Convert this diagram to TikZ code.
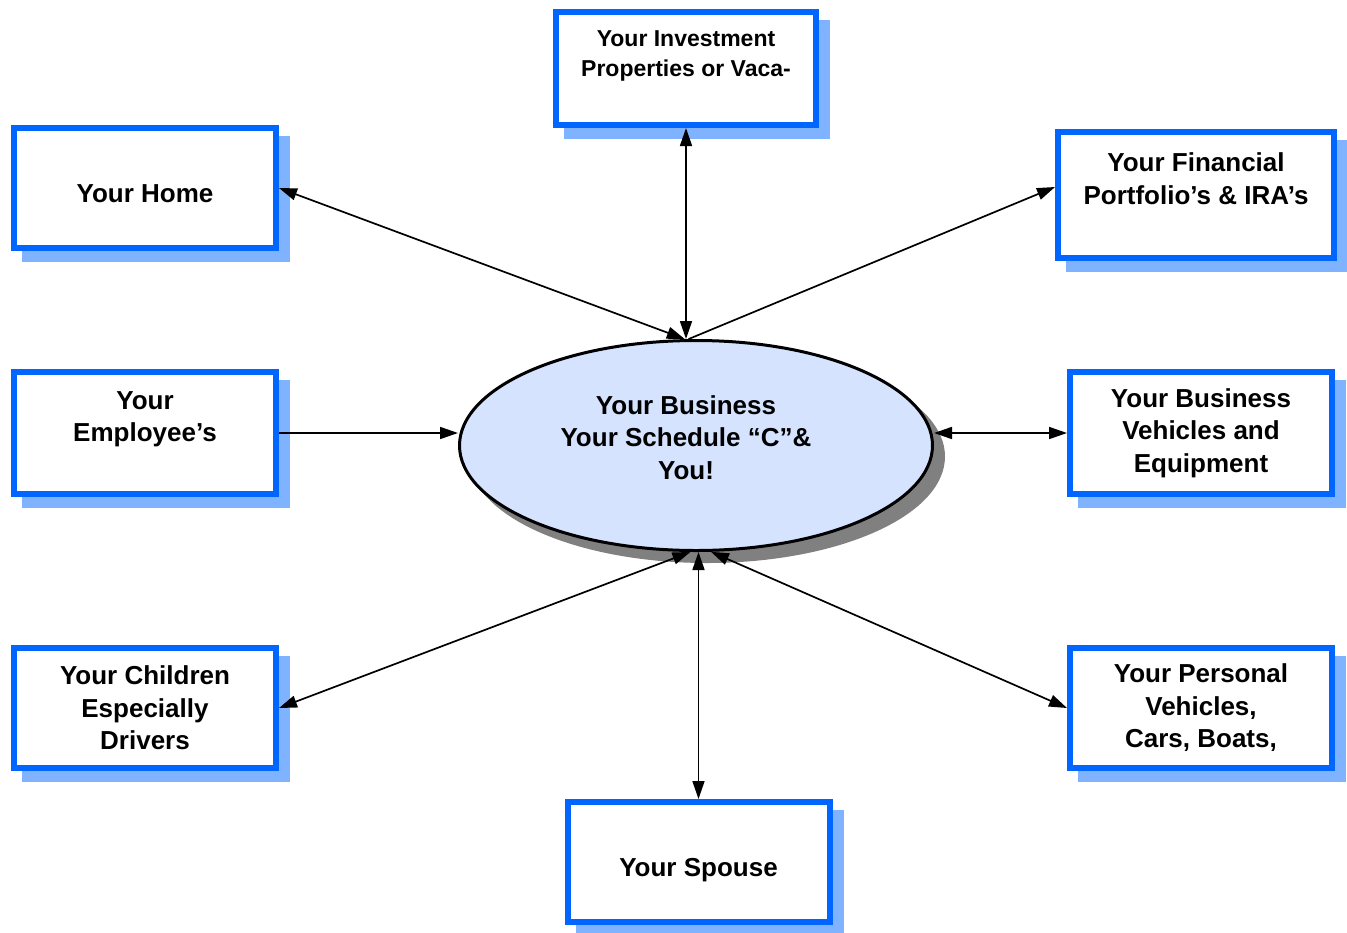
\documentclass[tikz,border=0pt]{standalone}
\usepackage{fontspec}
\setmainfont{Liberation Sans}
\usetikzlibrary{shapes.geometric,shadows,arrows.meta}
\definecolor{frameblue}{RGB}{0,102,255}
\definecolor{shadeblue}{RGB}{128,179,255}
\definecolor{bubble}{RGB}{214,227,255}
\tikzset{
	box/.style={draw=frameblue,line width=6pt,fill=white,align=center,inner sep=0pt,
		minimum width=262pt,minimum height=120pt,
		font=\bfseries\fontsize{26pt}{32.5pt}\selectfont,
		drop shadow={shadow xshift=11pt,shadow yshift=-11pt,fill=shadeblue,draw=shadeblue,line width=6pt,opacity=1}},
	oneline/.style={text height=28pt,text depth=0pt},
	link/.style={line width=1.7pt},
	>={Triangle[length=18pt,width=12pt]}
}
\begin{document}
\begin{tikzpicture}[x=1pt,y=-1pt]
	\useasboundingbox (0,0) rectangle (1347,932);
	% centre
	\node[ellipse,draw,line width=3pt,fill=bubble,inner sep=0pt,
		minimum width=473pt,minimum height=210pt,
		drop shadow={shadow xshift=11pt,shadow yshift=-11pt,fill=gray,draw=gray,line width=3pt,opacity=1}]
		(biz) at (696,445.5) {};
	\node[align=center,inner sep=0pt,font=\bfseries\fontsize{26pt}{32.5pt}\selectfont]
		(bizname) at ([xshift=-10pt]biz.center) {Your Business\\Your Schedule “C”\&\\You!\\[-16pt]\mbox{}};
	% boxes
	\node[box,minimum width=260pt,minimum height=113pt,font=\bfseries\fontsize{23pt}{30pt}\selectfont]
		(invest) at (686,68.5) {Your Investment\\Properties or Vaca-\\\mbox{}};
	\node[box,oneline] (home) at (145,188) {Your Home};
	\node[box,minimum width=276pt,minimum height=126pt] (fin) at (1196,195) {Your Financial\\Portfolio’s \& IRA’s\\\mbox{}};
	\node[box,minimum height=122pt] (staff) at (145,433) {Your\\Employee’s\\\mbox{}};
	\node[box,minimum height=122pt] (bizcar) at (1201,433) {Your Business\\Vehicles and\\Equipment};
	\node[box] (kids) at (145,708) {Your Children\\Especially\\Drivers};
	\node[box] (car) at (1201,708) {Your Personal\\Vehicles,\\Cars, Boats,};
	\node[box,oneline] (spouse) at (698.5,862) {Your Spouse};
	% arrows
	\draw[link,<->] (invest.south) -- (invest.south |- biz.north);
	\draw[link,<->] (home.east) -- (biz.96);
	\draw[link,->] (biz.94) -- ([yshift=8pt]fin.west);
	\draw[link,->] (staff.east) -- (staff.east -| biz.west);
	\draw[link,<->] (biz.east |- bizcar.west) -- (bizcar.west);
	\draw[link,<->] (kids.east) -- (biz.267);
	\draw[link,<->] (spouse.north) -- (spouse.north |- biz.south);
	\draw[link,<->] (car.west) -- (biz.278);
\end{tikzpicture}
\end{document}
